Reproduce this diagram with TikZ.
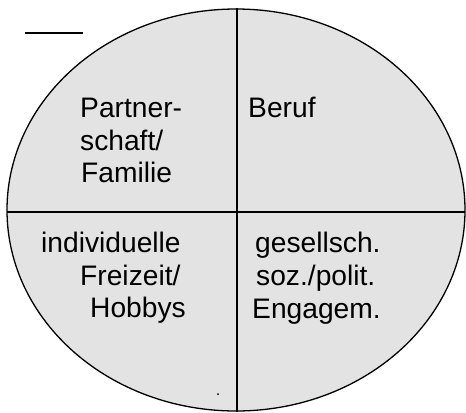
\documentclass[tikz,border=0pt]{standalone}
\usepackage{fontspec}
\setmainfont{Liberation Sans}
\definecolor{fillgray}{HTML}{E3E3E3}
\tikzset{
  lbl/.style={anchor=base west, inner sep=0pt, font=\fontsize{28.3}{32.5}\selectfont},
  rule/.style={draw=black, line width=1.3bp}
}
\begin{document}
\begin{tikzpicture}[x=1bp,y=-1bp]
\useasboundingbox (0,0) rectangle (466,412);
\draw[rule, fill=fillgray] (236,210) ellipse [x radius=229, y radius=201];
\coordinate (vt) at (237,8);
\coordinate (vb) at (237,412);
\coordinate (hl) at (7,212);
\coordinate (hr) at (465,212);
\draw[rule] (vt) -- (vb);
\draw[rule] (hl) -- (hr);
\coordinate (sl) at (25,33);
\coordinate (sr) at (83,33);
\draw[rule] (sl) -- (sr);
\fill (218,394) circle [radius=1bp];
\node[lbl] (p1) at (80,117) {Partner-};
\node[lbl] (p2) at (80,150) {schaft/};
\node[lbl] (p3) at (81,182) {Familie};
\node[lbl] (b1) at (248,117) {Beruf};
\node[lbl] (i1) at (41,252) {individuelle};
\node[lbl] (i2) at (80,285) {Freizeit/};
\node[lbl] (i3) at (90,317) {Hobbys};
\node[lbl] (g1) at (255,252) {gesellsch.};
\node[lbl] (g2) at (256,285) {soz./polit.};
\node[lbl] (g3) at (252,318) {Engagem.};
\end{tikzpicture}
\end{document}
